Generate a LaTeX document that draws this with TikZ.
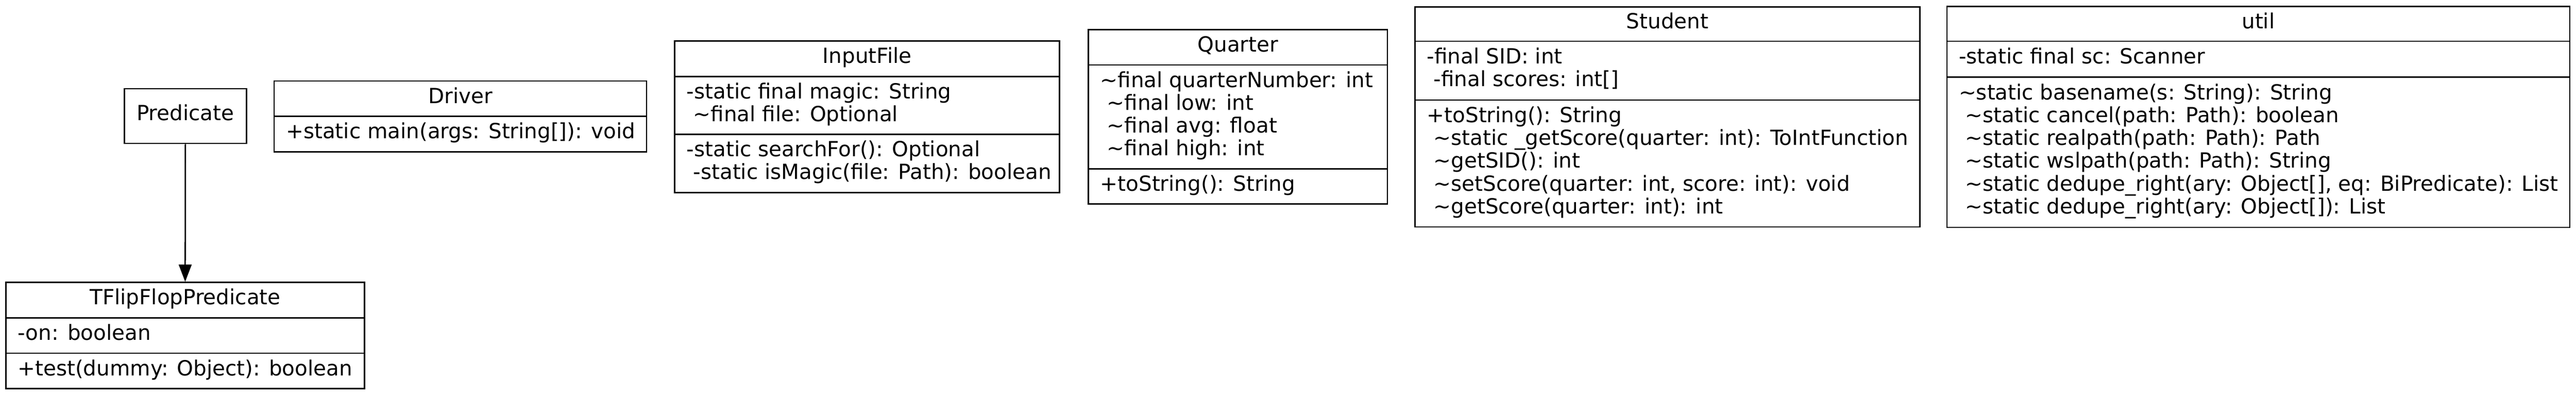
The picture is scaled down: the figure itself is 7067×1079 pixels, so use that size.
\documentclass[tikz,border=0pt]{standalone}
\usepackage{fontspec}
\setmainfont{DejaVu Sans}
\usetikzlibrary{fit,arrows.meta}
\newcommand\ind{\hspace*{0.318em}}
\newcommand\tl{\textasciitilde}
\begin{document}
\begin{tikzpicture}[x=0.25pt,y=-0.25pt,
  cls/.style={draw=black, line width=0.9pt, inner sep=0pt},
  sepline/.style={draw=black, line width=0.9pt},
  txt/.style={font=\fontsize{14.3pt}{15.625pt}\selectfont, inner sep=0pt, align=left, anchor=west},
  hdr/.style={font=\fontsize{14.3pt}{15.625pt}\selectfont, inner sep=0pt, anchor=center},
  inh/.style={draw=black, line width=0.9pt, -{Triangle[length=11.75pt,width=8.75pt]}}]
\fill[white] (0,0) rectangle (7067,1079);
\useasboundingbox (0,0) rectangle (7067,1079);

% Predicate
\node[cls, fit={(341,243) (676,393)}] (predicate) {};
\node[hdr] (predicate-name) at (predicate.center) {\strut Predicate};

% Driver
\node[cls, fit={(752,222) (1774,416)}] (driver) {};
\draw[sepline] (driver.west |- 0,319) -- (driver.east |- 0,319);
\node[hdr] (driver-name) at (1263,270.5) {\strut Driver};
\node[txt] (driver-ops) at (784,367.5) {\strut +static main(args: String[]): void};

% TFlipFlopPredicate
\node[cls, fit={(16,774) (1000,1065)}] (tflip) {};
\draw[sepline] (tflip.west |- 0,871) -- (tflip.east |- 0,871);
\draw[sepline] (tflip.west |- 0,968) -- (tflip.east |- 0,968);
\node[hdr] (tflip-name) at (508,822.5) {\strut TFlipFlopPredicate};
\node[txt] (tflip-attr) at (48,919.5) {\strut -on: boolean};
\node[txt] (tflip-ops) at (48,1016.5) {\strut +test(dummy: Object): boolean};

% InputFile
\node[cls, fit={(1851,112) (2907,528)}] (inputfile) {};
\draw[sepline] (inputfile.west |- 0,210) -- (inputfile.east |- 0,210);
\draw[sepline] (inputfile.west |- 0,368) -- (inputfile.east |- 0,368);
\node[hdr] (inputfile-name) at (2379,161) {\strut InputFile};
\node[txt] (inputfile-attr) at (1883,289) {\strut -static final magic: String\\\strut\ind\tl final file: Optional};
\node[txt] (inputfile-ops) at (1883,448) {\strut -static searchFor(): Optional\\\strut\ind -static isMagic(file: Path): boolean};

% Quarter
\node[cls, fit={(2986,81) (3806,559)}] (quarter) {};
\draw[sepline] (quarter.west |- 0,178) -- (quarter.east |- 0,178);
\draw[sepline] (quarter.west |- 0,463) -- (quarter.east |- 0,463);
\node[hdr] (quarter-name) at (3396,129.5) {\strut Quarter};
\node[txt] (quarter-attr) at (3018,320.5) {\strut\tl final quarterNumber: int\\\strut\ind\tl final low: int\\\strut\ind\tl final avg: float\\\strut\ind\tl final high: int};
\node[txt] (quarter-ops) at (3018,511) {\strut +toString(): String};

% Student
\node[cls, fit={(3882,19) (5267,622)}] (student) {};
\draw[sepline] (student.west |- 0,113) -- (student.east |- 0,113);
\draw[sepline] (student.west |- 0,274) -- (student.east |- 0,274);
\node[hdr] (student-name) at (4574.5,66) {\strut Student};
\node[txt] (student-attr) at (3914,193.5) {\strut -final SID: int\\\strut\ind -final scores: int[]};
\node[txt] (student-ops) at (3914,448) {\strut +toString(): String\\\strut\ind\tl static \_getScore(quarter: int): ToIntFunction\\\strut\ind\tl getSID(): int\\\strut\ind\tl setScore(quarter: int, score: int): void\\\strut\ind\tl getScore(quarter: int): int};

% util
\node[cls, fit={(5341,18) (7050,623)}] (util) {};
\draw[sepline] (util.west |- 0,113) -- (util.east |- 0,113);
\draw[sepline] (util.west |- 0,211) -- (util.east |- 0,211);
\node[hdr] (util-name) at (6195.5,65.5) {\strut util};
\node[txt] (util-attr) at (5373,162) {\strut -static final sc: Scanner};
\node[txt] (util-ops) at (5373,417) {\strut\tl static basename(s: String): String\\\strut\ind\tl static cancel(path: Path): boolean\\\strut\ind\tl static realpath(path: Path): Path\\\strut\ind\tl static wslpath(path: Path): String\\\strut\ind\tl static dedupe\_right(ary: Object[], eq: BiPredicate): List\\\strut\ind\tl static dedupe\_right(ary: Object[]): List};

% inheritance connector
\draw[inh] (predicate.south) -- (tflip.north);
\end{tikzpicture}
\end{document}
